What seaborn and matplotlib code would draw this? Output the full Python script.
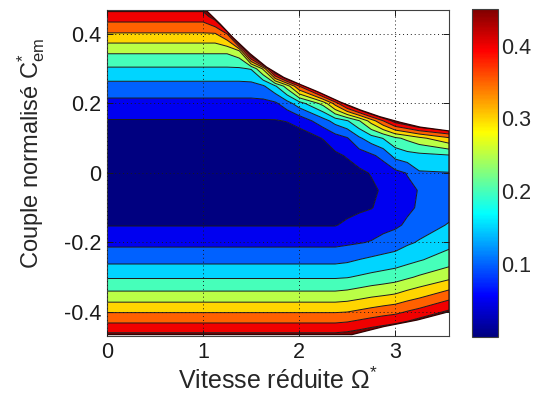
import numpy as np
import matplotlib
matplotlib.use("Agg")
import matplotlib.pyplot as plt
from matplotlib.colors import LinearSegmentedColormap, Normalize
from matplotlib.patches import Polygon
from matplotlib.cm import ScalarMappable
import seaborn as sns

# ---------------- data ----------------
omega = [0.0, 1.0, 1.125, 1.25, 1.375, 1.5, 1.625, 1.75, 1.875, 2.0,
         2.25, 2.375, 2.5, 2.625, 2.75, 2.875, 3.0, 3.125, 3.25, 3.56]
torque = [-0.47, -0.45, -0.40, -0.35, -0.30, -0.25, -0.20, -0.15, -0.10, -0.05,
          0.0, 0.05, 0.10, 0.15, 0.20, 0.25, 0.30, 0.35, 0.40, 0.45, 0.47]
# losses: one row per torque value (bottom to top), one column per speed value
loss_grid = [
    [0.470] * 12 + [0.475, 0.490, 0.500, 0.510, 0.520, 0.530, 0.550, 0.600],
    [0.431] * 12 + [0.437, 0.448, 0.460, 0.470, 0.480, 0.490, 0.510, 0.550],
    [0.347] * 12 + [0.350, 0.360, 0.370, 0.380, 0.388, 0.404, 0.418, 0.460],
    [0.264] * 12 + [0.269, 0.278, 0.288, 0.295, 0.303, 0.319, 0.333, 0.373],
    [0.195] * 12 + [0.198, 0.206, 0.214, 0.221, 0.229, 0.243, 0.257, 0.288],
    [0.136] * 12 + [0.141, 0.151, 0.160, 0.167, 0.173, 0.184, 0.196, 0.225],
    [0.087] * 12 + [0.092, 0.097, 0.103, 0.116, 0.126, 0.143, 0.154, 0.184],
    [0.048] * 12 + [0.057, 0.068, 0.076, 0.084, 0.092, 0.107, 0.130, 0.153],
    [0.021] * 9 + [0.025, 0.030, 0.032, 0.038, 0.042, 0.048, 0.062, 0.078, 0.092, 0.105, 0.135],
    [0.005] * 8 + [0.007, 0.012, 0.020, 0.025, 0.032, 0.035, 0.040, 0.057, 0.075, 0.090, 0.102, 0.125],
    [0.000] * 8 + [0.004, 0.008, 0.018, 0.023, 0.030, 0.040, 0.053, 0.068, 0.085, 0.102, 0.145, 0.148],
    [0.005] * 8 + [0.008, 0.013, 0.025, 0.041, 0.054, 0.074, 0.091, 0.115, 0.166, 0.181, 0.186, 0.195],
    [0.021] * 8 + [0.022, 0.025, 0.052, 0.077, 0.096, 0.142, 0.176, 0.202, 0.240, 0.261, 0.286, 0.342],
    [0.047] * 8 + [0.052, 0.067, 0.129, 0.169, 0.196, 0.247, 0.322, 0.400, 0.475, 0.510, 0.550, 0.580],
    [0.085] * 7 + [0.091, 0.128, 0.177, 0.267, 0.370, 0.480, 0.570, 0.660, 0.720, 0.790, 0.850, 1.000, 1.000],
    [0.133] * 6 + [0.143, 0.193, 0.275, 0.400, 0.610, 0.720, 0.830, 0.950] + [1.000] * 6,
    [0.194] * 5 + [0.203, 0.308, 0.550, 0.740, 0.800] + [1.000] * 10,
    [0.259] * 4 + [0.285, 0.560, 0.910] + [1.000] * 13,
    [0.345] * 3 + [0.400, 0.720] + [1.000] * 15,
    [0.425, 0.425, 0.477, 0.710] + [1.000] * 16,
    [0.460, 0.460, 0.550, 0.840] + [1.000] * 16,
]
# operating envelope (limit of the feasible region)
env_top_omega = [0.0, 1.04, 1.18, 1.31, 1.49, 1.66, 1.84, 2.0, 2.2, 2.43, 2.64, 2.84, 3.05, 3.26, 3.56]
env_top_c = [0.466, 0.466, 0.428, 0.390, 0.343, 0.305, 0.275, 0.256, 0.233, 0.204, 0.181, 0.162, 0.146, 0.132, 0.121]
env_bot_omega = [3.56, 3.23, 2.88, 2.55, 0.0]
env_bot_c = [-0.399, -0.423, -0.442, -0.465, -0.465]

contour_levels = [0.05, 0.10, 0.15, 0.20, 0.25, 0.30, 0.35, 0.40, 0.45]
color_min, color_max = 0.0, 0.45
x_ticks = [0, 1, 2, 3]
x_tick_labels = ["0", "1", "2", "3"]
y_ticks = [-0.4, -0.2, 0, 0.2, 0.4]
y_tick_labels = ["-0.4", "-0.2", "0", "0.2", "0.4"]
cb_ticks = [0.1, 0.2, 0.3, 0.4]
cb_tick_labels = ["0.1", "0.2", "0.3", "0.4"]
x_label = r"Vitesse réduite $\Omega^{*}$"
y_label = r"Couple normalisé C$^{*}_{em}$"

# ---------------- style ----------------
sns.set_theme(style="ticks")
plt.rcParams["font.family"] = ["Liberation Sans", "DejaVu Sans"]
plt.rcParams["mathtext.fontset"] = "custom"
plt.rcParams["mathtext.rm"] = "Liberation Sans"
plt.rcParams["mathtext.it"] = "Liberation Sans"
plt.rcParams["mathtext.default"] = "regular"

jet_matlab = LinearSegmentedColormap("jet_matlab", {
    "red":   [(0, 0, 0), (0.375, 0, 0), (0.625, 1, 1), (0.875, 1, 1), (1, 0.5, 0.5)],
    "green": [(0, 0, 0), (0.125, 0, 0), (0.375, 1, 1), (0.625, 1, 1), (0.875, 0, 0), (1, 0, 0)],
    "blue":  [(0, 0.5, 0.5), (0.125, 1, 1), (0.375, 1, 1), (0.625, 0, 0), (1, 0, 0)],
}, N=256)
norm = Normalize(color_min, color_max)

fill_levels = [color_min] + contour_levels + [2.0]
band_colors = [jet_matlab(norm(v)) for v in fill_levels[:-1]]

fig = plt.figure(figsize=(5.37, 4.03), dpi=100)
fig.patch.set_facecolor("white")
ax = fig.add_axes([0.1993, 0.1663, 0.6369, 0.8089])
ax.set_facecolor("white")

O = np.array(omega)
C = np.array(torque)
Z = np.array(loss_grid)

env_pts = list(zip(env_top_omega, env_top_c)) + list(zip(env_bot_omega, env_bot_c))
clip = Polygon(env_pts, closed=True, transform=ax.transData, facecolor="none", edgecolor="none")
ax.add_patch(clip)

cf = ax.contourf(O, C, Z, levels=fill_levels, colors=band_colors, antialiased=True)
cf.set_clip_path(clip)
cl = ax.contour(O, C, Z, levels=contour_levels, colors="k", linewidths=0.7)
cl.set_clip_path(clip)
edge = Polygon(env_pts, closed=True, transform=ax.transData, facecolor="none",
               edgecolor="#300000", linewidth=0.9, zorder=2)
ax.add_patch(edge)

ax.set_xlim(0, 3.56)
ax.set_ylim(-0.469, 0.469)
ax.set_xticks(x_ticks)
ax.set_xticklabels(x_tick_labels)
ax.set_yticks(y_ticks)
ax.set_yticklabels(y_tick_labels)
ax.tick_params(direction="in", length=4, width=0.7, top=True, right=True,
               labelsize=15.5, colors="k", pad=4)
ax.grid(True, color="k", linestyle=(0, (1, 3)), linewidth=0.7)
ax.set_axisbelow(False)
for s in ax.spines.values():
    s.set_color("#404040")
    s.set_linewidth(0.8)

ax.set_xlabel(x_label, fontsize=18, labelpad=4)
ax.set_ylabel(y_label, fontsize=17)
ax.yaxis.set_label_coords(-0.175, 0.56)

cax = fig.add_axes([0.8784, 0.1645, 0.0495, 0.8124])
cb = fig.colorbar(ScalarMappable(norm=norm, cmap=jet_matlab), cax=cax)
cb.set_ticks(cb_ticks)
cb.set_ticklabels(cb_tick_labels)
cax.tick_params(direction="in", length=4, width=0.7, left=True, right=True,
                labelsize=15.5, pad=2)
cb.outline.set_edgecolor("#404040")
cb.outline.set_linewidth(0.8)

fig.savefig("out.png", dpi=100)
